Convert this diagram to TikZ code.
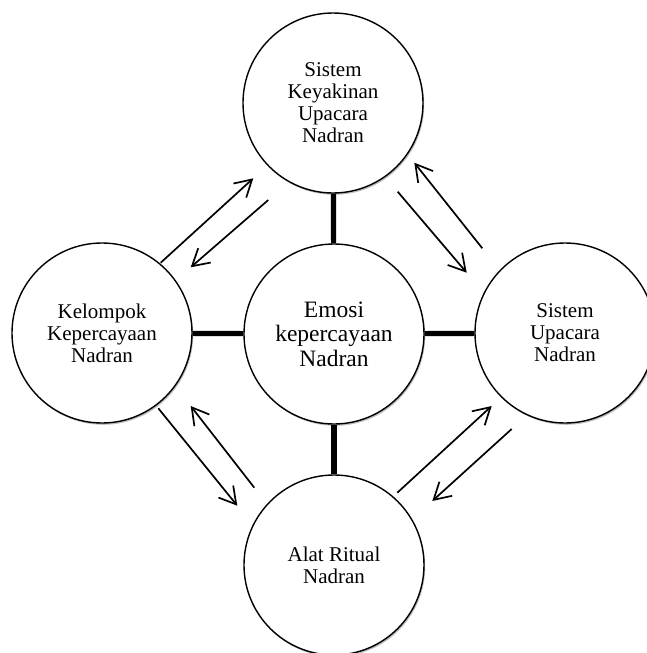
\documentclass[tikz,border=0pt]{standalone}
\usepackage{fontspec}
\setmainfont{Liberation Serif}
\usetikzlibrary{arrows.meta,shadows}
\begin{document}
\begin{tikzpicture}[x=1pt,y=-1pt,
  circ/.style={circle,draw=black,line width=1.4pt,fill=white,minimum size=180pt,inner sep=0pt,align=center,
    font=\fontsize{21}{22}\selectfont,
    drop shadow={shadow xshift=1.2pt,shadow yshift=-1.8pt,opacity=0.25,fill=black}},
  bigtext/.style={font=\fontsize{23.5}{24.5}\selectfont},
  bar/.style={line width=5.2pt},
  arr/.style={line width=1.7pt,-{Straight Barb[length=16.5pt,width=19pt,line width=1.7pt]}}]
\useasboundingbox (0,0) rectangle (646,653);
\node[circ] (top) at (333,103) {Sistem\\Keyakinan\\Upacara\\Nadran};
\node[circ,bigtext] (mid) at (334,334) {Emosi\\kepercayaan\\Nadran};
\node[circ] (left) at (102,333) {Kelompok\\Kepercayaan\\Nadran};
\node[circ] (right) at (565,333) {Sistem\\Upacara\\Nadran};
\node[circ] (bot) at (334,565) {Alat Ritual\\Nadran};
\draw[bar] (top) -- (mid);
\draw[bar] (left) -- (mid);
\draw[bar] (mid) -- (right);
\draw[bar] (mid) -- (bot);
% arrow end points
\coordinate (a1s) at (160.7,262.7); \coordinate (a1t) at (253.3,178.3);
\coordinate (a2s) at (268.3,200);   \coordinate (a2t) at (190.7,267.3);
\coordinate (a3s) at (397.7,191.7); \coordinate (a3t) at (466.7,272.7);
\coordinate (a4s) at (482.3,248.3); \coordinate (a4t) at (414.3,162.7);
\coordinate (a5s) at (158.3,408.3); \coordinate (a5t) at (237.3,505.7);
\coordinate (a6s) at (254.3,487.7); \coordinate (a6t) at (190.7,406);
\coordinate (a7s) at (397.3,492.7); \coordinate (a7t) at (491.7,406);
\coordinate (a8s) at (511.7,429);   \coordinate (a8t) at (432.3,501);
\draw[arr] (a1s) -- (a1t);
\draw[arr] (a2s) -- (a2t);
\draw[arr] (a3s) -- (a3t);
\draw[arr] (a4s) -- (a4t);
\draw[arr] (a5s) -- (a5t);
\draw[arr] (a6s) -- (a6t);
\draw[arr] (a7s) -- (a7t);
\draw[arr] (a8s) -- (a8t);
\end{tikzpicture}
\end{document}
